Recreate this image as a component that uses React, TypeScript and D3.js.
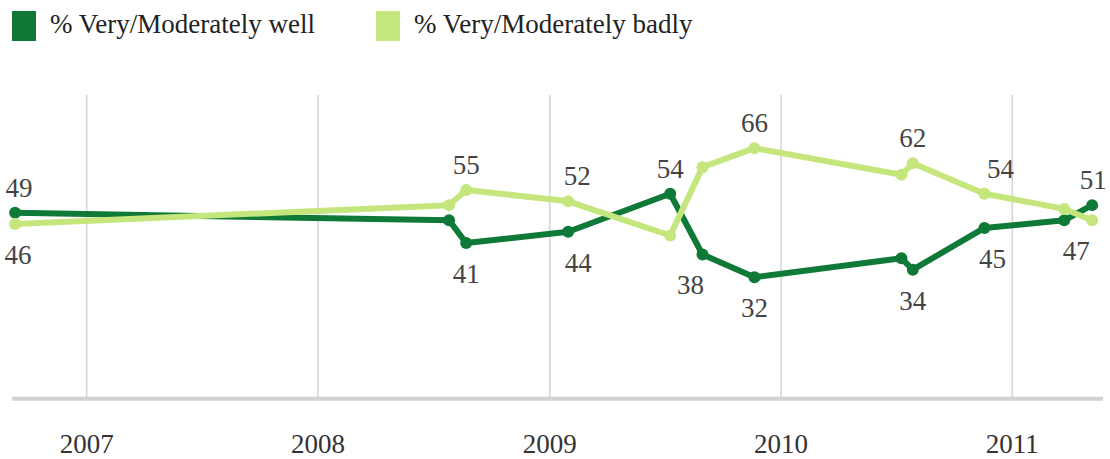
import React from "react";
import * as d3 from "d3";

const dates = [
  "2006-09-10", "2008-07-26", "2008-08-22", "2009-01-30", "2009-07-10", "2009-08-30",
  "2009-11-20", "2010-07-10", "2010-07-28", "2010-11-18", "2011-03-24", "2011-05-07",
];
const wellValues = [49, 47, 41, 44, 54, 38, 32, 37, 34, 45, 47, 51];
const badlyValues = [46, 51, 55, 52, 43, 61, 66, 59, 62, 54, 50, 47];
const yearTicks = ["2007", "2008", "2009", "2010", "2011"];
const seriesNames = ["% Very/Moderately well", "% Very/Moderately badly"];

// which points carry a value label, and where
const wellLabels = [
  { i: 0, pos: "above", dx: 4 },
  { i: 2, pos: "below", dx: 0 },
  { i: 3, pos: "below", dx: 10 },
  { i: 4, pos: "above", dx: 0 },
  { i: 5, pos: "below", dx: -12 },
  { i: 6, pos: "below", dx: 0 },
  { i: 8, pos: "below", dx: 0 },
  { i: 9, pos: "below", dx: 8 },
  { i: 11, pos: "above", dx: 1 },
];
const badlyLabels = [
  { i: 0, pos: "below", dx: 3 },
  { i: 2, pos: "above", dx: 0 },
  { i: 3, pos: "above", dx: 9 },
  { i: 6, pos: "above", dx: 0 },
  { i: 8, pos: "above", dx: 0 },
  { i: 9, pos: "above", dx: 16 },
  { i: 11, pos: "below", dx: -16 },
];

const W = 1110;
const H = 459;
const DARK = "#0f7a37";
const LIGHT = "#c4e67c";
const FONT = "'Liberation Serif', 'DejaVu Serif', serif";

export default function App() {
  const parse = d3.timeParse("%Y-%m-%d");
  const parsed = dates.map((d) => parse(d) as Date);
  const yearDates = yearTicks.map((y) => parse(`${y}-01-01`) as Date);

  const x = d3
    .scaleTime()
    .domain([yearDates[0], yearDates[yearDates.length - 1]])
    .range([86.7, 1012.3]);
  const y = d3.scaleLinear().domain([0, 80]).range([398.8, 95]);

  const line = d3
    .line<number>()
    .x((_, i) => x(parsed[i]))
    .y((v) => y(v));

  const series = [
    { values: wellValues, color: DARK, labels: wellLabels },
    { values: badlyValues, color: LIGHT, labels: badlyLabels },
  ];

  return (
    <svg
      width={W}
      height={H}
      style={{ position: "absolute", left: 0, top: 0, background: "#fff", fontFamily: FONT }}
    >
      {/* legend */}
      <rect x={12} y={11} width={24} height={30} fill={DARK} />
      <text x={50} y={33} fontSize={27} fill="#222">
        {seriesNames[0]}
      </text>
      <rect x={376} y={11} width={24} height={30} fill={LIGHT} />
      <text x={414} y={33} fontSize={27} fill="#222">
        {seriesNames[1]}
      </text>

      {/* gridlines */}
      {yearDates.map((d, i) => (
        <line
          key={i}
          x1={x(d)}
          x2={x(d)}
          y1={y(80)}
          y2={y(0)}
          stroke="#d4d4d4"
          strokeWidth={1.5}
        />
      ))}
      {/* baseline */}
      <line x1={12} x2={1103} y1={y(0)} y2={y(0)} stroke="#d2d2d0" strokeWidth={4} />

      {/* year labels */}
      {yearDates.map((d, i) => (
        <text
          key={i}
          x={x(d)}
          y={453}
          textAnchor="middle"
          fontSize={27}
          fill="#333"
        >
          {yearTicks[i]}
        </text>
      ))}

      {/* lines */}
      {series.map((s, si) => (
        <g key={si}>
          <path
            d={line(s.values) || ""}
            fill="none"
            stroke={s.color}
            strokeWidth={6}
            strokeLinejoin="round"
            strokeLinecap="round"
          />
          {s.values.map((v, i) => (
            <circle key={i} cx={x(parsed[i])} cy={y(v)} r={6} fill={s.color} />
          ))}
        </g>
      ))}

      {/* value labels */}
      {series.map((s, si) =>
        s.labels.map((l, k) => {
          const v = s.values[l.i];
          const py = y(v);
          return (
            <text
              key={`${si}-${k}`}
              x={x(parsed[l.i]) + l.dx}
              y={l.pos === "above" ? py - 16 : py + 40}
              textAnchor="middle"
              fontSize={27}
              fill="#444"
            >
              {v}
            </text>
          );
        })
      )}
    </svg>
  );
}
